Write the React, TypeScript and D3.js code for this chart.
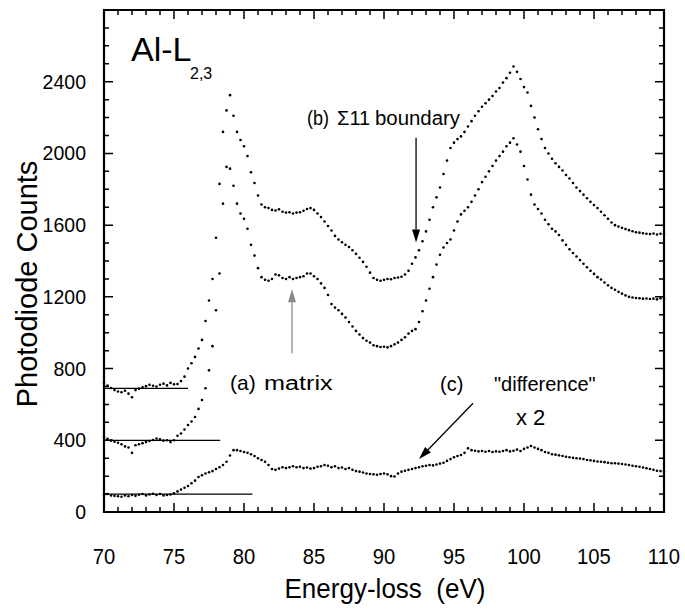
import React from 'react';
import * as d3 from 'd3';

const energy = [
  70, 70.25, 70.5, 70.75, 71, 71.25, 71.5, 71.75, 72, 72.25,
  72.5, 72.75, 73, 73.25, 73.5, 73.75, 74, 74.25, 74.5, 74.75,
  75, 75.25, 75.5, 75.75, 76, 76.25, 76.5, 76.75, 77, 77.25,
  77.5, 77.75, 78, 78.25, 78.5, 78.75, 79, 79.25, 79.5, 79.75,
  80, 80.25, 80.5, 80.75, 81, 81.25, 81.5, 81.75, 82, 82.25,
  82.5, 82.75, 83, 83.25, 83.5, 83.75, 84, 84.25, 84.5, 84.75,
  85, 85.25, 85.5, 85.75, 86, 86.25, 86.5, 86.75, 87, 87.25,
  87.5, 87.75, 88, 88.25, 88.5, 88.75, 89, 89.25, 89.5, 89.75,
  90, 90.25, 90.5, 90.75, 91, 91.25, 91.5, 91.75, 92, 92.25,
  92.5, 92.75, 93, 93.25, 93.5, 93.75, 94, 94.25, 94.5, 94.75,
  95, 95.25, 95.5, 95.75, 96, 96.25, 96.5, 96.75, 97, 97.25,
  97.5, 97.75, 98, 98.25, 98.5, 98.75, 99, 99.25, 99.5, 99.75,
  100, 100.25, 100.5, 100.75, 101, 101.25, 101.5, 101.75, 102, 102.25,
  102.5, 102.75, 103, 103.25, 103.5, 103.75, 104, 104.25, 104.5, 104.75,
  105, 105.25, 105.5, 105.75, 106, 106.25, 106.5, 106.75, 107, 107.25,
  107.5, 107.75, 108, 108.25, 108.5, 108.75, 109, 109.25, 109.5, 109.75,
  110,
];

// (b) Sigma-11 boundary spectrum
const boundaryCounts = [
  720, 705, 692, 680, 672, 668, 676, 660, 640, 680,
  688, 695, 702, 710, 704, 700, 710, 716, 706, 720,
  712, 714, 730, 755, 800, 830, 865, 912, 960, 1065,
  1180, 1300, 1530, 1830, 2120, 2240, 2325, 2210, 2120, 2075,
  2040, 1985, 1895, 1835, 1765, 1715, 1700, 1695, 1685, 1682,
  1688, 1675, 1670, 1672, 1665, 1670, 1672, 1680, 1690, 1695,
  1685, 1665, 1645, 1620, 1595, 1570, 1540, 1520, 1505, 1490,
  1478, 1460, 1440, 1418, 1395, 1368, 1335, 1305, 1295, 1290,
  1295, 1300, 1298, 1305, 1308, 1312, 1325, 1345, 1385, 1420,
  1460, 1510, 1565, 1630, 1700, 1755, 1810, 1885, 1960, 2030,
  2060, 2080, 2095, 2120, 2150, 2180, 2210, 2235, 2260, 2280,
  2300, 2320, 2345, 2365, 2395, 2420, 2450, 2485, 2455, 2415,
  2370, 2340, 2265, 2200, 2135, 2080, 2030, 2000, 1970, 1945,
  1925, 1905, 1880, 1860, 1835, 1810, 1790, 1770, 1750, 1730,
  1712, 1695, 1675, 1655, 1635, 1615, 1600, 1592, 1585, 1578,
  1572, 1566, 1560, 1558, 1555, 1552, 1550, 1553, 1548, 1552,
  1550,
];

// (a) matrix spectrum
const matrixCounts = [
  418, 408, 398, 392, 386, 378, 366, 360, 330, 372,
  378, 384, 390, 396, 402, 410, 406, 398, 400, 390,
  400, 425, 438, 460, 485, 505, 530, 575, 625, 690,
  790, 925, 1125, 1330, 1720, 1925, 1915, 1820, 1720, 1665,
  1635, 1580, 1490, 1430, 1360, 1310, 1295, 1290, 1300, 1325,
  1320, 1305, 1300, 1310, 1300, 1305, 1310, 1315, 1330, 1330,
  1315, 1300, 1275, 1250, 1210, 1160, 1140, 1125, 1105, 1085,
  1060, 1035, 1010, 990, 970, 955, 945, 930, 925, 920,
  922, 918, 925, 935, 945, 960, 975, 995, 1010, 1020,
  1060, 1120, 1180, 1245, 1310, 1380, 1435, 1475, 1500, 1520,
  1570, 1620, 1660, 1680, 1700, 1730, 1765, 1800, 1840, 1870,
  1900, 1930, 1960, 1985, 2010, 2040, 2060, 2085, 2050, 2010,
  1930, 1855, 1770, 1715, 1690, 1665, 1630, 1605, 1580, 1565,
  1545, 1515, 1490, 1465, 1445, 1425, 1405, 1385, 1365, 1345,
  1328, 1310, 1297, 1280, 1265, 1250, 1240, 1228, 1218, 1208,
  1200, 1196, 1194, 1192, 1190, 1191, 1188, 1190, 1186, 1192,
  1190,
];

// (c) "difference" x 2
const differenceCounts = [
  95, 100, 92, 90, 88, 85, 92, 88, 95, 90,
  96, 100, 92, 98, 102, 95, 100, 92, 95, 98,
  105, 115, 125, 135, 145, 160, 175, 195, 205, 215,
  222, 228, 240, 250, 262, 280, 315, 345, 345, 340,
  335, 330, 322, 312, 300, 290, 280, 262, 240, 235,
  242, 250, 245, 250, 255, 250, 252, 245, 248, 242,
  245, 252, 255, 262, 258, 250, 255, 245, 248, 240,
  245, 235, 228, 225, 220, 215, 212, 210, 208, 212,
  215, 210, 200, 198, 215, 225, 230, 235, 240, 245,
  250, 255, 258, 262, 260, 265, 270, 275, 285, 295,
  305, 312, 318, 330, 355, 345, 342, 338, 340, 336,
  340, 335, 338, 336, 340, 345, 338, 342, 348, 340,
  352, 360, 368, 360, 352, 345, 335, 330, 322, 320,
  316, 312, 308, 305, 302, 300, 298, 295, 290, 288,
  285, 282, 280, 278, 275, 272, 272, 270, 268, 265,
  262, 258, 255, 252, 248, 244, 240, 235, 230, 228,
  225,
];

const seriesList = [boundaryCounts, matrixCounts, differenceCounts];

// pre-edge background reference lines: level (counts) and end energy (eV)
const baselineLevels = [690, 400, 100];
const baselineEnds = [76, 78.3, 80.6];

const xTickLabels = [70, 75, 80, 85, 90, 95, 100, 105, 110];
const yTickLabels = [0, 400, 800, 1200, 1600, 2000, 2400];

const FONT = "'Liberation Sans', Arial, Helvetica, sans-serif";

const PL = 104;
const PR = 664;
const PT = 10;
const PB = 512;

function Txt({ x, y, size, sx = 1, anchor = 'start', children, fill = '#000' }) {
  return (
    <text
      transform={`translate(${x},${y}) scale(${sx},1)`}
      fontSize={size}
      textAnchor={anchor}
      fontFamily={FONT}
      fill={fill}
    >
      {children}
    </text>
  );
}

function Arrow({ x1, y1, x2, y2, color = '#000', head = 13, half = 4 }) {
  const dx = x2 - x1;
  const dy = y2 - y1;
  const len = Math.sqrt(dx * dx + dy * dy);
  const ux = dx / len;
  const uy = dy / len;
  const bx = x2 - ux * head;
  const by = y2 - uy * head;
  const px = -uy;
  const py = ux;
  const pts = `${x2},${y2} ${bx + px * half},${by + py * half} ${bx - px * half},${by - py * half}`;
  return (
    <g>
      <line x1={x1} y1={y1} x2={bx} y2={by} stroke={color} strokeWidth={1.3} />
      <polygon points={pts} fill={color} />
    </g>
  );
}

export default function App() {
  const x = d3.scaleLinear().domain([70, 110]).range([PL, PR]);
  const y = d3.scaleLinear().domain([0, 2800]).range([PB, PT]);

  const xMinor = x.ticks(40);
  const yMinor = y.ticks(28);

  // one path for all tick marks (inward on all four sides)
  let tickPath = '';
  xMinor.forEach((t) => {
    const L = t % 5 === 0 ? 9 : 5;
    const xx = x(t);
    tickPath += `M${xx},${PB}V${PB - L}M${xx},${PT}V${PT + L}`;
  });
  yMinor.forEach((t) => {
    const L = t % 400 === 0 ? 9 : 5;
    const yy = y(t);
    tickPath += `M${PL},${yy}H${PL + L}M${PR},${yy}H${PR - L}`;
  });

  return (
    <div style={{ position: 'absolute', left: 0, top: 0, width: 685, height: 610, background: '#fff' }}>
      <svg width={685} height={610} viewBox="0 0 685 610" style={{ display: 'block' }}>
        <path
          d={`M${PL},${PT}H${PR}V${PB}H${PL}Z`}
          fill="none"
          stroke="#000"
          strokeWidth={2.2}
        />
        <path d={tickPath} fill="none" stroke="#000" strokeWidth={1.5} />

        {/* baselines */}
        {baselineLevels.map((lv, i) => (
          <line
            key={'bl' + i}
            x1={x(70)}
            x2={x(baselineEnds[i])}
            y1={y(lv)}
            y2={y(lv)}
            stroke="#000"
            strokeWidth={1.3}
          />
        ))}

        {/* data dots */}
        {seriesList.map((s, si) => (
          <g key={'s' + si}>
            {s.map((v, i) => (
              <circle key={i} cx={x(energy[i])} cy={y(v)} r={1.3} fill="#000" />
            ))}
          </g>
        ))}

        {/* tick labels */}
        {xTickLabels.map((t) => (
          <Txt key={'xl' + t} x={x(t)} y={564} size={22} sx={0.92} anchor="middle">
            {t}
          </Txt>
        ))}
        {yTickLabels.map((t) => (
          <Txt key={'yl' + t} x={86} y={y(t) + 7} size={19.5} anchor="end">
            {t}
          </Txt>
        ))}

        {/* axis titles */}
        <text
          transform="translate(37,284) rotate(-90)"
          fontSize={29}
          textAnchor="middle"
          fontFamily={FONT}
        >
          Photodiode Counts
        </text>
        <Txt x={385} y={598} size={28} sx={0.93} anchor="middle">
          Energy-loss{'\u00A0\u00A0'}(eV)
        </Txt>

        {/* element label */}
        <Txt x={131} y={61} size={34}>Al-L</Txt>
        <Txt x={190} y={79} size={16}>2,3</Txt>

        {/* annotations */}
        <Txt x={307} y={125} size={20} sx={0.9}>(b)</Txt>
        <Txt x={337} y={125} size={20}>{'\u03A3'}11</Txt>
        <Txt x={375} y={125} size={20} sx={1.02}>boundary</Txt>
        <Arrow x1={x(92.29)} y1={y(2088)} x2={x(92.29)} y2={y(1503)} />

        <Txt x={230} y={390} size={21}>(a)</Txt>
        <Txt x={264} y={390} size={21} sx={1.2}>matrix</Txt>
        <Arrow x1={x(83.43)} y1={y(885)} x2={x(83.43)} y2={y(1242)} color="#8a8a8a" />

        <Txt x={440} y={391} size={20}>(c)</Txt>
        <Txt x={494} y={391} size={20}>"difference"</Txt>
        <Txt x={516} y={425} size={22}>x 2</Txt>
        <Arrow x1={x(96.36)} y1={y(607)} x2={x(92.5)} y2={y(295)} />
      </svg>
    </div>
  );
}
